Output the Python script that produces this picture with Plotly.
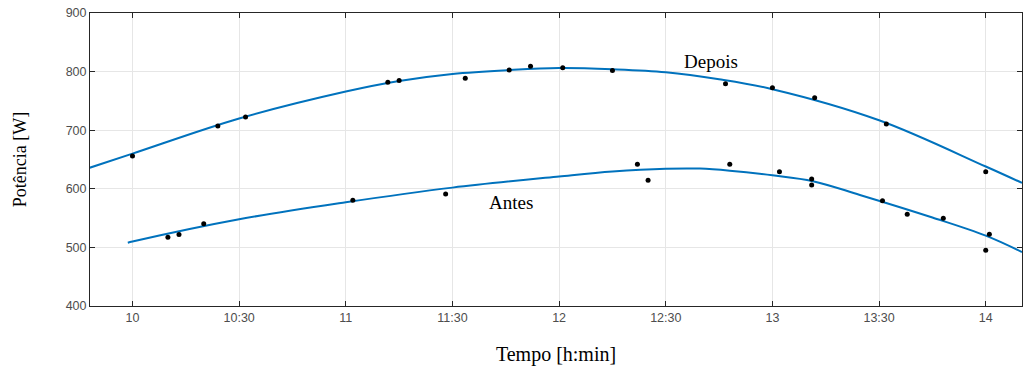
import plotly.graph_objects as go

# Measured power samples (time in decimal hours, power in W)
depois_t = [10.0, 10.40, 10.53, 11.197, 11.25, 11.56, 11.766, 11.866, 12.017, 12.25,
            12.78, 13.0, 13.198, 13.534, 14.0]
depois_p = [656, 707, 722.5, 782, 785, 788.6, 802.7, 809, 806.7, 802,
            779.4, 772.5, 755.5, 710.6, 629]

antes_t = [10.166, 10.218, 10.334, 11.033, 11.468, 12.367, 12.417, 12.80, 13.033,
           13.184, 13.184, 13.516, 13.632, 13.801, 14.0, 14.017]
antes_p = [517.2, 522, 540.5, 580.4, 591, 641.8, 614.5, 641.8, 629,
           616.7, 606.5, 579.7, 556.5, 549.7, 495, 522.4]

# Fitted trend curves
depois_fit_t = [9.80, 10.0, 10.5, 11.0, 11.25, 11.5, 11.77, 12.0, 12.25, 12.5, 12.75,
                13.0, 13.5, 14.0, 14.17]
depois_fit_p = [636, 660, 720, 766, 784, 796, 802.7, 806, 804, 799, 787,
                770, 717, 638, 610]

antes_fit_t = [9.978, 10.0, 10.5, 11.0, 11.5, 12.0, 12.25, 12.5, 12.66, 12.8, 13.0,
               13.19, 13.41, 13.75, 14.0, 14.17]
antes_fit_p = [508, 510, 548, 577, 602, 621, 629.5, 634.3, 634.5, 631, 623,
               613, 589.5, 551, 520, 492]

x_ticks = [10, 10.5, 11, 11.5, 12, 12.5, 13, 13.5, 14]
x_labels = ["10", "10:30", "11", "11:30", "12", "12:30", "13", "13:30", "14"]
y_ticks = [400, 500, 600, 700, 800, 900]

line_color = "#0072BD"
axis_color = "#262626"
tick_font = dict(family="Liberation Sans, Arial, sans-serif", size=12.5, color="#4d4d4d")
serif = "Liberation Serif, Times New Roman, serif"

fig = go.Figure()
for t, p in [(depois_fit_t, depois_fit_p), (antes_fit_t, antes_fit_p)]:
    fig.add_trace(go.Scatter(x=t, y=p, mode="lines",
                             line=dict(color=line_color, width=2, shape="spline", smoothing=1.0),
                             showlegend=False, hoverinfo="skip"))
for t, p in [(depois_t, depois_p), (antes_t, antes_p)]:
    fig.add_trace(go.Scatter(x=t, y=p, mode="markers", marker=dict(color="black", size=5),
                             showlegend=False))

fig.add_annotation(x=12.71, y=817, text="Depois", showarrow=False,
                   font=dict(family=serif, size=19, color="black"))
fig.add_annotation(x=11.775, y=577, text="Antes", showarrow=False,
                   font=dict(family=serif, size=19, color="black"))

fig.update_xaxes(range=[9.8008, 14.17], tickvals=x_ticks, ticktext=x_labels,
                 showgrid=True, gridcolor="#e6e6e6", gridwidth=1,
                 showline=True, linecolor=axis_color, linewidth=1, mirror="ticks",
                 ticks="inside", ticklen=5, tickcolor=axis_color,
                 tickfont=tick_font, zeroline=False,
                 title=dict(text="Tempo [h:min]", font=dict(family=serif, size=20, color="black"),
                            standoff=22))
fig.update_yaxes(range=[400, 900], tickvals=y_ticks,
                 showgrid=True, gridcolor="#e6e6e6", gridwidth=1,
                 showline=True, linecolor=axis_color, linewidth=1, mirror="ticks",
                 ticks="inside", ticklen=5, tickcolor=axis_color,
                 tickfont=tick_font, zeroline=False,
                 title=dict(text="Potência [W]", font=dict(family=serif, size=18, color="black"),
                            standoff=34))

fig.update_layout(width=1023, height=369, margin=dict(l=90, r=1, t=13, b=63),
                  plot_bgcolor="white", paper_bgcolor="white")

fig.write_html("out.html")
